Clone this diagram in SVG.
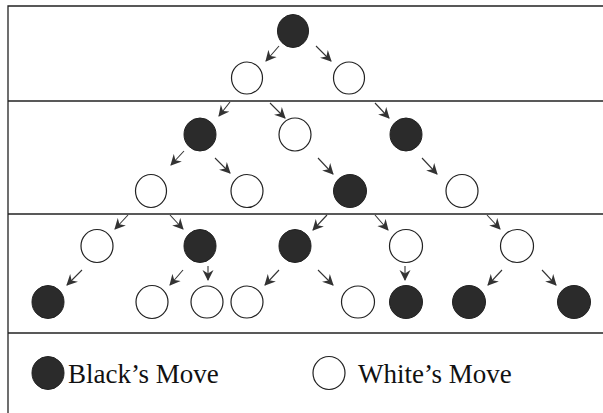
<svg xmlns="http://www.w3.org/2000/svg" width="603" height="413" viewBox="0 0 603 413">
<defs>
<style>
.b{fill:#2b2b2b;stroke:#222;stroke-width:1}
.w{fill:#fff;stroke:#222;stroke-width:1.2}
.rule{stroke:#222;stroke-width:1.3;fill:none}
.c line{stroke:#333;stroke-width:1.1;marker-end:url(#ah)}
.t{font-family:"Liberation Serif","Times New Roman",serif;font-size:27px;fill:#111}
</style>
<marker id="ah" markerUnits="userSpaceOnUse" markerWidth="13" markerHeight="12" refX="10" refY="6" orient="auto">
<path d="M0,0.5 L11,6 L0,11.5 L3.5,6 z" fill="#333"/>
</marker>
</defs>
<rect width="603" height="413" fill="#fff"/>
<g id="frame">
<path class="rule" d="M8,413 V6 H603"/>
<line class="rule" x1="8" y1="101" x2="603" y2="101"/>
<line class="rule" x1="8" y1="214" x2="603" y2="214"/>
<line class="rule" x1="8" y1="333" x2="603" y2="333"/>
</g>
<g id="connectors" class="c">
<line x1="279" y1="46" x2="266" y2="61"/>
<line x1="316" y1="46" x2="331" y2="61"/>
<line x1="230" y1="102" x2="219" y2="116"/>
<line x1="270" y1="103" x2="285" y2="118"/>
<line x1="375" y1="103" x2="389" y2="118"/>
<line x1="184" y1="151" x2="171" y2="165"/>
<line x1="215" y1="158" x2="230" y2="173"/>
<line x1="318" y1="158" x2="333" y2="174"/>
<line x1="422" y1="158" x2="437" y2="174"/>
<line x1="128" y1="215" x2="115" y2="229"/>
<line x1="170" y1="215" x2="183" y2="229"/>
<line x1="327" y1="215" x2="313" y2="230"/>
<line x1="375" y1="215" x2="388" y2="230"/>
<line x1="487" y1="215" x2="500" y2="229"/>
<line x1="82" y1="270" x2="67" y2="285"/>
<line x1="183" y1="270" x2="170" y2="285"/>
<line x1="208" y1="266" x2="208" y2="280"/>
<line x1="279" y1="270" x2="265" y2="285"/>
<line x1="318" y1="270" x2="333" y2="285"/>
<line x1="405" y1="266" x2="405" y2="280"/>
<line x1="502" y1="270" x2="488" y2="285"/>
<line x1="542" y1="270" x2="556" y2="285"/>
</g>
<g id="n1"><ellipse class="b" cx="293" cy="31" rx="15.5" ry="16.5"/></g>
<g id="n2"><ellipse class="w" cx="247" cy="78" rx="15.5" ry="16"/></g>
<g id="n3"><ellipse class="w" cx="349" cy="78" rx="15.5" ry="16"/></g>
<g id="n4"><ellipse class="b" cx="200" cy="134.5" rx="16" ry="16.5"/></g>
<g id="n5"><ellipse class="w" cx="295" cy="134.5" rx="16" ry="16.5"/></g>
<g id="n6"><ellipse class="b" cx="406" cy="134.5" rx="16" ry="16.5"/></g>
<g id="n7"><ellipse class="w" cx="151" cy="191" rx="15.5" ry="16.5"/></g>
<g id="n8"><ellipse class="w" cx="247" cy="191" rx="16" ry="16.5"/></g>
<g id="n9"><ellipse class="b" cx="350" cy="191" rx="16.5" ry="16.5"/></g>
<g id="n10"><ellipse class="w" cx="462" cy="191" rx="16" ry="16.5"/></g>
<g id="n11"><ellipse class="w" cx="97" cy="246" rx="16" ry="16.5"/></g>
<g id="n12"><ellipse class="b" cx="200" cy="246" rx="16" ry="16.5"/></g>
<g id="n13"><ellipse class="b" cx="295" cy="246" rx="16" ry="16.5"/></g>
<g id="n14"><ellipse class="w" cx="406" cy="246" rx="16.5" ry="16.5"/></g>
<g id="n15"><ellipse class="w" cx="517" cy="246" rx="16.5" ry="16.5"/></g>
<g id="n16"><ellipse class="b" cx="48" cy="302" rx="16" ry="16.5"/></g>
<g id="n17"><ellipse class="w" cx="152" cy="302" rx="16" ry="16.5"/></g>
<g id="n18"><ellipse class="w" cx="207" cy="302" rx="16" ry="16"/></g>
<g id="n19"><ellipse class="w" cx="247" cy="302" rx="16" ry="16"/></g>
<g id="n20"><ellipse class="w" cx="358" cy="302" rx="16.5" ry="16"/></g>
<g id="n21"><ellipse class="b" cx="406" cy="302" rx="16.5" ry="16.5"/></g>
<g id="n22"><ellipse class="b" cx="469" cy="302" rx="16.5" ry="16.5"/></g>
<g id="n23"><ellipse class="b" cx="574" cy="302" rx="16.5" ry="16.5"/></g>
<g id="legend-black">
<ellipse class="b" cx="48" cy="373" rx="16" ry="16.5"/>
<text class="t" x="68" y="383">Black’s Move</text>
</g>
<g id="legend-white">
<ellipse class="w" cx="329" cy="373" rx="16" ry="16.5"/>
<text class="t" x="358" y="383">White’s Move</text>
</g>
</svg>
